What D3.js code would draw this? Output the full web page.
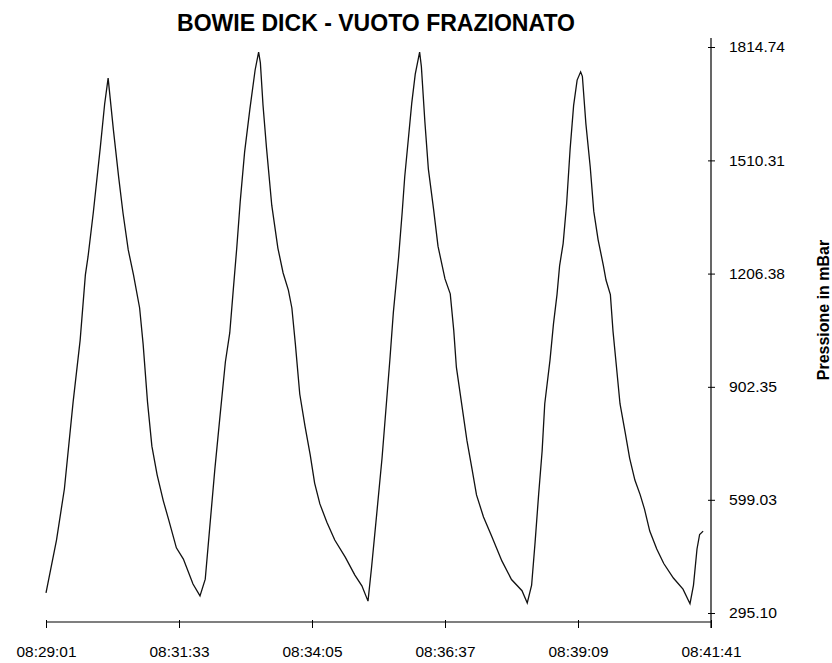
<!DOCTYPE html>
<html>
<head>
<meta charset="utf-8">
<script src="https://d3js.org/d3.v7.min.js"></script>
<style>
  body { margin: 0; background: #fff; }
  text { font-family: "Liberation Sans", Arial, sans-serif; fill: #000; }
</style>
</head>
<body>
<script>
var titleText = "BOWIE DICK - VUOTO FRAZIONATO",
    yTitle = "Pressione in mBar";

// seconds elapsed since 08:29:01
var seconds = [0,12,21,31,39,45,48,54,62,67,71,
  77,83,88,94,100,107,111,116,121,127,134,140,149,157,168,176,
  182,187,193,199,205,210,214,218,222,227,233,239,243,
  245,248,252,258,265,271,277,281,285,290,296,302,307,313,321,330,342,353,361,368,
  372,378,384,389,393,397,403,407,410,414,418,422,427,
  429,433,437,443,448,456,462,466,469,475,481,487,492,500,509,521,532,544,550,
  555,559,563,567,570,576,580,584,587,591,595,599,603,607,611,
  613,617,622,626,631,637,640,645,648,652,656,662,667,673,679,684,690,698,706,717,728,736,
  740,744,747,751];

// pressure in mBar
var pressure = [349,491,628,862,1027,1203,1251,1369,1544,1661,1731,
  1593,1466,1369,1270,1203,1114,1017,862,743,666,597,547,470,440,373,341,
  386,521,682,827,969,1047,1162,1275,1401,1533,1648,1753,1801,
  1772,1659,1544,1390,1275,1208,1162,1114,1017,883,797,719,644,588,539,491,445,397,368,327,
  416,562,710,857,975,1103,1251,1369,1467,1565,1664,1742,1801,
  1762,1614,1487,1378,1280,1192,1152,1054,955,857,759,680,612,553,503,435,385,355,322,
  370,486,613,730,857,974,1072,1150,1228,1287,1394,1541,1658,1726,1748,
  1736,1609,1492,1374,1297,1228,1189,1150,1052,955,857,779,711,652,613,574,515,467,428,389,359,320,
  370,467,506,515];

var yTicks = [295.10, 599.03, 902.35, 1206.38, 1510.31, 1814.74];
var xTickLabels = ["08:29:01", "08:31:33", "08:34:05", "08:36:37", "08:39:09", "08:41:41"];

var width = 832, height = 663,
    plotLeft = 46, plotRight = 711, plotTop = 47, plotBottom = 613, axisY = 622;

var parse = d3.timeParse("%H:%M:%S"),
    fmt = d3.timeFormat("%H:%M:%S"),
    t0 = parse(xTickLabels[0]);

var data = seconds.map(function(s, i) {
  return { t: new Date(t0.getTime() + s * 1000), p: pressure[i] };
});

var svg = d3.select("body").append("svg")
    .attr("width", width)
    .attr("height", height);

var x = d3.scaleTime()
    .domain([t0, parse(xTickLabels[xTickLabels.length - 1])])
    .range([plotLeft, plotRight]);

var y = d3.scaleLinear()
    .domain([yTicks[0], yTicks[yTicks.length - 1]])
    .range([plotBottom, plotTop]);

// title
svg.append("text")
    .attr("x", 376)
    .attr("y", 31)
    .attr("text-anchor", "middle")
    .style("font-size", "23px")
    .style("font-weight", "bold")
    .attr("textLength", 398)
    .attr("lengthAdjust", "spacingAndGlyphs")
    .text(titleText);

// x axis
var xAxis = svg.append("g")
    .attr("transform", "translate(0," + axisY + ")")
    .call(d3.axisBottom(x)
      .tickValues(xTickLabels.map(parse))
      .tickFormat(fmt)
      .tickSize(6));
xAxis.select(".domain").remove();
xAxis.selectAll(".tick line").attr("y1", -2).attr("stroke", "#000");
xAxis.selectAll(".tick text")
    .style("font-size", "15px")
    .attr("dy", 0)
    .attr("y", 35)
    .attr("textLength", 60)
    .attr("lengthAdjust", "spacingAndGlyphs");
svg.append("line")
    .attr("x1", plotLeft).attr("x2", plotRight)
    .attr("y1", axisY).attr("y2", axisY)
    .attr("stroke", "#000").attr("stroke-width", 1.2);

// y axis (right)
var yAxis = svg.append("g")
    .attr("transform", "translate(" + plotRight + ",0)")
    .call(d3.axisRight(y)
      .tickValues(yTicks)
      .tickFormat(d3.format(".2f"))
      .tickSize(4)
      .tickPadding(14));
yAxis.select(".domain").remove();
yAxis.selectAll(".tick line").attr("x1", -3).attr("stroke", "#000");
yAxis.selectAll(".tick text")
    .style("font-size", "15px")
    .attr("textLength", function(d) { return d >= 1000 ? 56 : 48; })
    .attr("lengthAdjust", "spacingAndGlyphs");
svg.append("line")
    .attr("x1", plotRight).attr("x2", plotRight)
    .attr("y1", 38).attr("y2", axisY + 6)
    .attr("stroke", "#000").attr("stroke-width", 1.2);

svg.append("text")
    .attr("transform", "translate(829,310) rotate(-90)")
    .attr("text-anchor", "middle")
    .style("font-size", "16px")
    .style("font-weight", "bold")
    .text(yTitle);

// pressure curve
var line = d3.line()
    .x(function(d) { return x(d.t); })
    .y(function(d) { return y(d.p); });

svg.append("path")
    .datum(data)
    .attr("fill", "none")
    .attr("stroke", "#111")
    .attr("stroke-width", 1.3)
    .attr("d", line);
</script>
</body>
</html>
